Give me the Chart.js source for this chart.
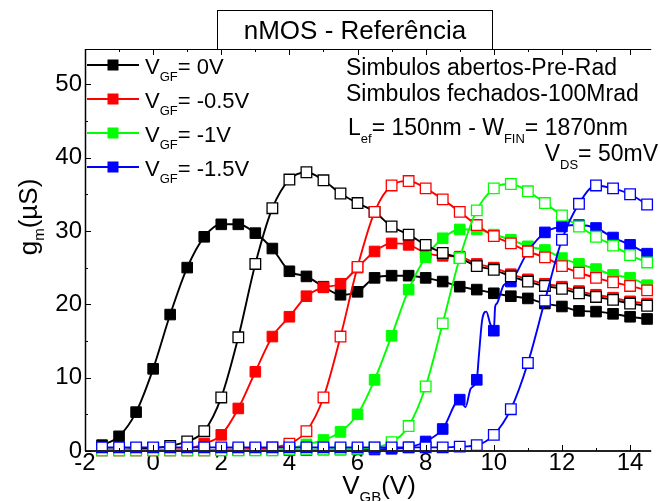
<!DOCTYPE html>
<html>
<head>
<meta charset="utf-8">
<title>nMOS - Referência</title>
<script src="https://cdn.jsdelivr.net/npm/chart.js@4.4.1/dist/chart.umd.min.js"></script>
<style>
  html, body { margin: 0; padding: 0; background: #fff; }
  #wrap { width: 660px; height: 501px; }
</style>
</head>
<body>
<div id="wrap"><canvas id="gm" width="660" height="501"></canvas></div>
<script>
const FONT = "'Liberation Sans', Arial, Helvetica, sans-serif";

// V_GB sweep (V), one marker every 0.5 V
const vgb = [-1.5, -1, -0.5, 0, 0.5, 1, 1.5, 2, 2.5, 3, 3.5, 4, 4.5, 5, 5.5, 6, 6.5,
  7, 7.5, 8, 8.5, 9, 9.5, 10, 10.5, 11, 11.5, 12, 12.5, 13, 13.5, 14, 14.5];

// gm (uS) — open symbols = pre-rad, filled symbols = 100 Mrad
const gmPre0 = [0.2, 0.2, 0.3, 0.4, 0.7, 1.3, 2.7, 7.3, 15.5, 25.5, 33.1, 37.0, 38.0, 36.9, 35.1, 33.8, 32.6,
  30.6, 29.5, 28.1, 27.0, 26.3, 25.2, 24.7, 23.8, 23.1, 22.5, 22.1, 21.5, 21.0, 20.6, 20.1, 19.8];
const gmRad0 = [0.8, 2.0, 5.3, 11.2, 18.6, 25.0, 29.2, 30.9, 30.9, 29.7, 27.6, 24.5, 23.8, 22.4, 21.3, 21.7, 23.6,
  23.9, 23.9, 23.6, 23.1, 22.4, 22.0, 21.5, 21.1, 20.8, 20.1, 19.7, 19.1, 19.0, 18.7, 18.3, 18.0];

const gmPre05 = [0.1, 0.1, 0.1, 0.1, 0.1, 0.1, 0.1, 0.2, 0.2, 0.3, 0.5, 1.0, 2.7, 7.3, 15.6, 25.1, 32.6,
  36.2, 36.8, 35.8, 34.3, 32.6, 30.8, 29.3, 28.3, 27.2, 26.4, 25.2, 24.3, 23.6, 23.0, 22.5, 21.9];
const gmRad05 = [0.1, 0.1, 0.1, 0.1, 0.2, 0.3, 1.0, 2.2, 5.8, 10.8, 15.6, 18.3, 21.1, 22.3, 22.8, 25.0, 27.2,
  28.3, 28.1, 27.0, 26.6, 26.5, 25.5, 25.0, 24.1, 23.4, 22.8, 22.4, 21.8, 21.3, 20.9, 20.4, 20.1];

const gmPre1 = [0.1, 0.1, 0.1, 0.1, 0.1, 0.1, 0.1, 0.1, 0.1, 0.1, 0.1, 0.2, 0.2, 0.2, 0.2, 0.3, 0.5,
  1.2, 3.4, 8.8, 17.4, 26.3, 32.8, 35.8, 36.4, 35.4, 33.8, 32.1, 30.6, 29.2, 28.0, 26.7, 25.7];
const gmRad1 = [0.1, 0.1, 0.1, 0.1, 0.1, 0.1, 0.1, 0.1, 0.1, 0.2, 0.2, 0.3, 0.9, 1.5, 2.6, 5.0, 9.7,
  15.7, 22.0, 26.4, 29.0, 30.2, 30.2, 29.5, 28.8, 27.9, 27.4, 26.3, 25.5, 24.8, 24.0, 23.6, 22.6];

const gmPre15 = [0.5, 0.5, 0.5, 0.5, 0.5, 0.5, 0.5, 0.5, 0.5, 0.5, 0.5, 0.5, 0.5, 0.5, 0.5, 0.5, 0.5,
  0.5, 0.5, 0.5, 0.5, 0.6, 0.8, 2.2, 5.7, 12.0, 20.5, 28.8, 33.7, 36.2, 35.8, 35.0, 33.6];
const gmRad15 = [0.1, 0.1, 0.1, 0.1, 0.1, 0.1, 0.1, 0.1, 0.1, 0.1, 0.1, 0.1, 0.1, 0.2, 0.2, 0.2, 0.2,
  0.3, 0.5, 1.3, 3.0, 7.0, 9.7, 16.4, 23.1, 27.2, 29.8, 30.6, 30.8, 30.4, 29.1, 28.1, 26.9];
// noisy stretch of the 100 Mrad, V_GF = -1.5 V trace between markers (line only)
const blueWiggleV  = [9.17, 9.32, 9.56, 9.66, 9.78, 9.89, 10.04, 10.09, 10.29];
const blueWiggleGm = [6.0, 8.5, 12.9, 17.9, 19.0, 17.4, 19.7, 20.1, 22.6];

const vgfLabels = ['0V', '-0.5V', '-1V', '-1.5V'];
const colors = ['#000000', '#ff0000', '#00ff00', '#0000ff'];

const xTicks = [-2, 0, 2, 4, 6, 8, 10, 12, 14];
const xMinor = [-1, 1, 3, 5, 7, 9, 11, 13];
const yTicks = [0, 10, 20, 30, 40, 50];
const yMinor = [5, 15, 25, 35, 45];

const MARK_R = 7.5;

function pts(ys) {
  return vgb.map((v, i) => ({ x: v, y: ys[i], m: true }));
}

function openSet(ys, color, order) {
  return {
    data: pts(ys), order,
    borderColor: color, backgroundColor: '#ffffff',
    borderWidth: 1.9, pointBorderWidth: 1.3,
    pointStyle: 'rect', pointRadius: MARK_R, pointBackgroundColor: '#ffffff', pointBorderColor: color,
    cubicInterpolationMode: 'monotone', clip: false
  };
}

function filledSet(data, color, order) {
  return {
    data, order,
    borderColor: color, backgroundColor: color,
    borderWidth: 1.9, pointBorderWidth: 1,
    pointStyle: 'rect',
    pointRadius: (c) => (c.raw && c.raw.m ? MARK_R : 0),
    pointBackgroundColor: color, pointBorderColor: color,
    cubicInterpolationMode: 'monotone', clip: false
  };
}

const blueRad = pts(gmRad15)
  .concat(blueWiggleV.map((v, i) => ({ x: v, y: blueWiggleGm[i], m: false })))
  .sort((a, b) => a.x - b.x);

// text with subscripts: parts = [[text, isSub], ...]
function richWidth(ctx, parts, size, subSize) {
  let w = 0;
  for (const [t, sub] of parts) {
    ctx.font = `${sub ? subSize : size}px ${FONT}`;
    w += ctx.measureText(t).width;
  }
  return w;
}
function drawRich(ctx, x, y, parts, size, subSize, subDrop) {
  let cx = x;
  for (const [t, sub] of parts) {
    ctx.font = `${sub ? subSize : size}px ${FONT}`;
    ctx.fillText(t, cx, sub ? y + subDrop : y);
    cx += ctx.measureText(t).width;
  }
  return cx;
}

const decor = {
  id: 'decor',
  afterDraw(chart) {
    const { ctx, chartArea: a, scales: { x, y } } = chart;
    ctx.save();
    ctx.strokeStyle = '#000';
    ctx.fillStyle = '#000';
    ctx.lineCap = 'butt';

    // frame: top edge, left axis, bottom axis
    ctx.lineWidth = 1;
    ctx.beginPath(); ctx.moveTo(a.left, a.top + 0.5); ctx.lineTo(a.right, a.top + 0.5); ctx.stroke();
    ctx.lineWidth = 1.5;
    ctx.beginPath(); ctx.moveTo(a.left + 0.5, a.top); ctx.lineTo(a.left + 0.5, a.bottom); ctx.stroke();
    ctx.strokeStyle = '#222';
    ctx.lineWidth = 2;
    ctx.beginPath(); ctx.moveTo(a.left, a.bottom); ctx.lineTo(a.right, a.bottom); ctx.stroke();

    // inward ticks
    ctx.strokeStyle = '#000';
    ctx.lineWidth = 1;
    const xt = (vals, len) => vals.forEach((v) => {
      const px = Math.round(x.getPixelForValue(v)) + 0.5;
      ctx.beginPath(); ctx.moveTo(px, a.bottom); ctx.lineTo(px, a.bottom - len); ctx.stroke();
      ctx.beginPath(); ctx.moveTo(px, a.top); ctx.lineTo(px, a.top + len); ctx.stroke();
    });
    const yt = (vals, len) => vals.forEach((v) => {
      const py = Math.round(y.getPixelForValue(v)) + 0.5;
      ctx.beginPath(); ctx.moveTo(a.left, py); ctx.lineTo(a.left + len, py); ctx.stroke();
    });
    xt(xTicks, 6); xt(xMinor, 3);
    yt(yTicks, 6); yt(yMinor, 3);

    // title box
    ctx.lineWidth = 1;
    ctx.fillStyle = '#fff';
    ctx.fillRect(217, 10, 275, 39);
    ctx.strokeRect(217.5, 10.5, 275, 39);
    ctx.fillStyle = '#000';
    ctx.font = `26px ${FONT}`;
    ctx.textAlign = 'center';
    ctx.textBaseline = 'alphabetic';
    ctx.fillText('nMOS - Referência', 355, 39);
    ctx.textAlign = 'left';

    // legend (filled symbols)
    const rowY = [65, 99, 133, 167];
    vgfLabels.forEach((lab, i) => {
      const cy = rowY[i];
      ctx.strokeStyle = colors[i];
      ctx.fillStyle = colors[i];
      ctx.lineWidth = 1.9;
      ctx.beginPath(); ctx.moveTo(87, cy); ctx.lineTo(139, cy); ctx.stroke();
      ctx.fillRect(107.5, cy - 5.5, 11, 11);
      ctx.fillStyle = '#000';
      drawRich(ctx, 145, cy + 9, [['V', false], ['GF', true], ['= ' + lab, false]], 22, 13, 7);
    });

    // conditions
    ctx.fillStyle = '#000';
    ctx.font = `23px ${FONT}`;
    ctx.fillText('Simbulos abertos-Pre-Rad', 346, 75);
    ctx.fillText('Simbulos fechados-100Mrad', 346, 101);
    drawRich(ctx, 348, 135, [['L', false], ['ef', true], ['= 150nm - W', false], ['FIN', true], ['= 1870nm', false]], 23, 13, 8);
    const vds = [['V', false], ['DS', true], ['= 50mV', false]];
    drawRich(ctx, 658 - richWidth(ctx, vds, 23, 13), 161, vds, 23, 13, 8);

    // axis titles
    const xt2 = [['V', false], ['GB', true], ['(V)', false]];
    const xw = richWidth(ctx, xt2, 26, 15);
    drawRich(ctx, 379 - xw / 2, 494, xt2, 26, 15, 8);

    const yt2 = [['g', false], ['m', true], ['(µS)', false]];
    const yw = richWidth(ctx, yt2, 26, 15);
    ctx.translate(37, 217 + yw / 2);
    ctx.rotate(-Math.PI / 2);
    drawRich(ctx, 0, 0, yt2, 26, 15, 7);
    ctx.restore();
  }
};

new Chart(document.getElementById('gm'), {
  type: 'line',
  data: {
    datasets: [
      filledSet(pts(gmRad0), colors[0], 8),
      filledSet(pts(gmRad05), colors[1], 7),
      filledSet(pts(gmRad1), colors[2], 6),
      filledSet(blueRad, colors[3], 5),
      openSet(gmPre0, colors[0], 4),
      openSet(gmPre05, colors[1], 3),
      openSet(gmPre1, colors[2], 2),
      openSet(gmPre15, colors[3], 1)
    ]
  },
  options: {
    responsive: false,
    devicePixelRatio: 1,
    animation: false,
    layout: { padding: { top: 49, right: 0, left: 0, bottom: 0 } },
    plugins: { legend: { display: false }, tooltip: { enabled: false } },
    scales: {
      x: {
        type: 'linear', min: -2, max: 14.62,
        grid: { display: false, drawTicks: false },
        border: { display: false },
        afterBuildTicks: (s) => { s.ticks = xTicks.map((v) => ({ value: v })); },
        afterFit: (s) => { s.height = 50; },
        ticks: { color: '#000', padding: -2, maxRotation: 0, font: { family: FONT, size: 24 } }
      },
      y: {
        type: 'linear', min: 0, max: 54.8,
        grid: { display: false, drawTicks: false },
        border: { display: false },
        afterBuildTicks: (s) => { s.ticks = yTicks.map((v) => ({ value: v })); },
        afterFit: (s) => { s.width = 85; },
        ticks: { color: '#000', padding: 3, font: { family: FONT, size: 24 } }
      }
    }
  },
  plugins: [decor]
});
</script>
</body>
</html>
